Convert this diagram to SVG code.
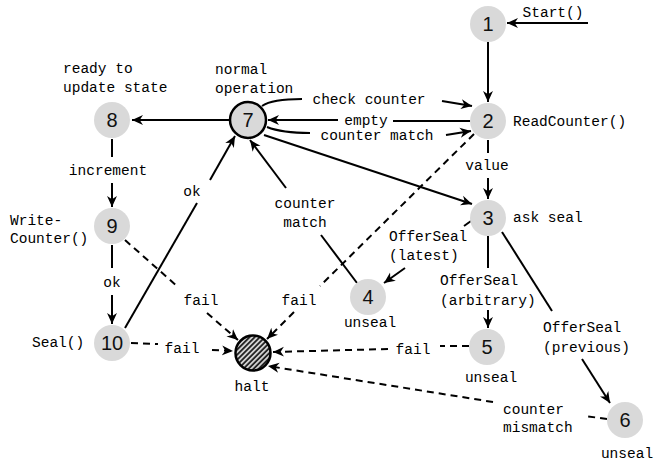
<svg xmlns="http://www.w3.org/2000/svg" width="655" height="464" viewBox="0 0 655 464">
<defs>
<marker id="ah" viewBox="0 0 10 10" refX="10" refY="5" markerWidth="11" markerHeight="11" markerUnits="userSpaceOnUse" orient="auto">
<path d="M0,0.5 L10,5 L0,9.5 L3,5 z" fill="#000"/>
</marker>
<pattern id="hatch" width="3.6" height="3.6" patternUnits="userSpaceOnUse" patternTransform="rotate(45)">
<rect width="3.6" height="3.6" fill="#d0d0d0"/>
<line x1="0.9" y1="0" x2="0.9" y2="3.6" stroke="#000" stroke-width="1.5"/>
</pattern>
</defs>
<style>
.e{fill:none;stroke:#000;stroke-width:2}
.d{fill:none;stroke:#000;stroke-width:2;stroke-dasharray:7 5}
.m{marker-end:url(#ah)}
.t{font-family:"Liberation Mono","Courier New",monospace;font-size:14.5px;fill:#000}
.c{text-anchor:middle}
.n circle{fill:#d9d9d9}
.n text{font-family:"Liberation Sans",Arial,sans-serif;font-size:20px;text-anchor:middle;fill:#111}
</style>
<rect width="655" height="464" fill="#fff"/>
<g id="connectors">
<path class="e m" d="M588,23 L507,23"/>
<path class="e m" d="M488,42 L488,102"/>
<path class="e m" d="M229,120 L132,120"/>
<path class="e" d="M262,106 Q272,99 302,99"/>
<path class="e m" d="M442,101 L472,106"/>
<path class="e" d="M470,121 L393,121"/>
<path class="e m" d="M338,120 L268,120"/>
<path class="e" d="M267,127 Q282,133 310,133"/>
<path class="e m" d="M446,135 L471,131"/>
<path class="e" d="M488,140 L488,153"/>
<path class="e m" d="M488,178 L488,199"/>
<path class="e m" d="M264,135 L472,204"/>
<path class="e" d="M112,139 L112,157"/>
<path class="e m" d="M112,183 L112,207"/>
<path class="e" d="M112,245 L112,268"/>
<path class="e m" d="M112,295 L112,324"/>
<path class="e" d="M125,328 L197,203"/>
<path class="e m" d="M210,180 L235,136"/>
<path class="e" d="M357,283 L321,235"/>
<path class="e m" d="M286,188 L250,140"/>
<path class="e" d="M471,221 L464,226"/>
<path class="e m" d="M405,268 L384,283"/>
<path class="e" d="M488,236 L488,268"/>
<path class="e m" d="M488,310 L488,328"/>
<path class="e" d="M502,232 L552,311"/>
<path class="e m" d="M582,359 L610,403"/>
<path class="d" d="M125,240 L178,287"/>
<path class="d m" d="M207,313 L238,340"/>
<path class="d" d="M474,134 L320,286"/>
<path class="d m" d="M294,312 L267,339"/>
<path class="d" d="M131,343 L158,344"/>
<path class="d m" d="M212,350 L233,351"/>
<path class="d" d="M469,346 L440,346"/>
<path class="d m" d="M388,349 L273,352"/>
<path class="d" d="M607,419 L585,416"/>
<path class="d m" d="M493,402 L268,366"/>
</g>
<g id="labels">
<text class="t c" x="553" y="17">Start()</text>
<text class="t" x="513" y="126">ReadCounter()</text>
<text class="t" x="63" y="73">ready to</text>
<text class="t" x="63" y="92">update state</text>
<text class="t" x="215" y="74">normal</text>
<text class="t" x="215" y="93">operation</text>
<text class="t c" x="369" y="104">check counter</text>
<text class="t c" x="366" y="125">empty</text>
<text class="t c" x="377" y="140">counter match</text>
<text class="t c" x="487" y="170">value</text>
<text class="t" x="513" y="222">ask seal</text>
<text class="t c" x="108" y="175">increment</text>
<text class="t" x="10" y="225">Write-</text>
<text class="t" x="10" y="243">Counter()</text>
<text class="t c" x="112" y="287">ok</text>
<text class="t c" x="192" y="196">ok</text>
<text class="t c" x="305" y="208">counter</text>
<text class="t c" x="305" y="227">match</text>
<text class="t" x="389" y="241">OfferSeal</text>
<text class="t" x="389" y="260">(latest)</text>
<text class="t" x="440" y="285">OfferSeal</text>
<text class="t" x="440" y="305">(arbitrary)</text>
<text class="t" x="543" y="332">OfferSeal</text>
<text class="t" x="543" y="352">(previous)</text>
<text class="t c" x="370" y="327">unseal</text>
<text class="t c" x="491" y="382">unseal</text>
<text class="t c" x="627" y="458">unseal</text>
<text class="t c" x="201" y="305">fail</text>
<text class="t c" x="299" y="305">fail</text>
<text class="t c" x="182" y="353">fail</text>
<text class="t c" x="413" y="354">fail</text>
<text class="t" x="503" y="414">counter</text>
<text class="t" x="503" y="432">mismatch</text>
<text class="t c" x="252" y="391">halt</text>
<text class="t" x="32" y="347">Seal()</text>
</g>
<g id="node1" class="n"><circle cx="488" cy="24" r="18"/><text x="488" y="31">1</text></g>
<g id="node2" class="n"><circle cx="488" cy="121" r="18"/><text x="488" y="128">2</text></g>
<g id="node3" class="n"><circle cx="488" cy="218" r="18"/><text x="488" y="225">3</text></g>
<g id="node4" class="n"><circle cx="368" cy="297" r="18"/><text x="368" y="304">4</text></g>
<g id="node5" class="n"><circle cx="487" cy="347" r="18"/><text x="487" y="354">5</text></g>
<g id="node6" class="n"><circle cx="625" cy="420" r="18"/><text x="625" y="427">6</text></g>
<g id="node7" class="n"><circle cx="248" cy="120" r="18" stroke="#000" stroke-width="2.5"/><text x="248" y="127">7</text></g>
<g id="node8" class="n"><circle cx="112" cy="120" r="18"/><text x="112" y="127">8</text></g>
<g id="node9" class="n"><circle cx="112" cy="226" r="18"/><text x="112" y="233">9</text></g>
<g id="node10" class="n"><circle cx="112" cy="343" r="18"/><text x="112" y="350">10</text></g>
<g id="halt"><circle cx="253" cy="353" r="17.5" fill="url(#hatch)" stroke="#000" stroke-width="2.5"/></g>
</svg>
